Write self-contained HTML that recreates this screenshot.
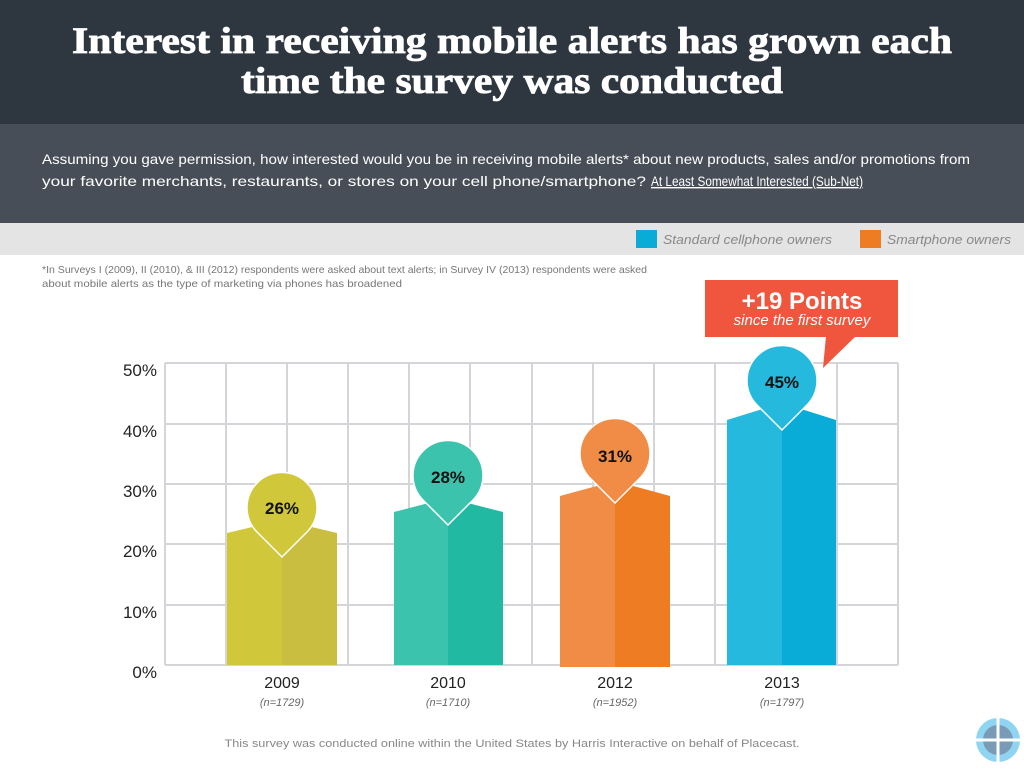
<!DOCTYPE html>
<html><head><meta charset="utf-8"><style>
html,body{margin:0;padding:0;background:#fff}
svg{display:block}
</style></head><body>
<svg width="1024" height="768" viewBox="0 0 1024 768" xmlns="http://www.w3.org/2000/svg" font-family="Liberation Sans, sans-serif">
<rect x="0" y="0" width="1024" height="124" fill="#2e3740"/>
<rect x="0" y="124" width="1024" height="99" fill="#474e57"/>
<rect x="0" y="223" width="1024" height="32" fill="#e4e4e4"/>
<text x="512" y="53" text-anchor="middle" font-family="Liberation Serif, serif" font-weight="bold" font-size="37" fill="#fff" stroke="#fff" stroke-width="0.8" textLength="880" lengthAdjust="spacingAndGlyphs">Interest in receiving mobile alerts has grown each</text>
<text x="512" y="93" text-anchor="middle" font-family="Liberation Serif, serif" font-weight="bold" font-size="37" fill="#fff" stroke="#fff" stroke-width="0.8" textLength="542" lengthAdjust="spacingAndGlyphs">time the survey was conducted</text>
<text x="42" y="164" font-size="14" fill="#fff" textLength="928" lengthAdjust="spacingAndGlyphs">Assuming you gave permission, how interested would you be in receiving mobile alerts* about new products, sales  and/or promotions from</text>
<text x="42" y="186" font-size="14" fill="#fff" textLength="604" lengthAdjust="spacingAndGlyphs">your favorite merchants, restaurants, or stores on your cell phone/smartphone?</text>
<text x="651" y="186" font-size="14" fill="#fff" text-decoration="underline" textLength="212" lengthAdjust="spacingAndGlyphs">At Least Somewhat Interested (Sub-Net)</text>
<rect x="636" y="230" width="21" height="18" fill="#08acd6"/>
<text x="663" y="244" font-size="13" font-style="italic" fill="#888" textLength="169" lengthAdjust="spacingAndGlyphs">Standard cellphone owners</text>
<rect x="860" y="230" width="21" height="18" fill="#ee7c23"/>
<text x="887" y="244" font-size="13" font-style="italic" fill="#888" textLength="124" lengthAdjust="spacingAndGlyphs">Smartphone owners</text>
<text x="42" y="273" font-size="10.5" fill="#777" textLength="605" lengthAdjust="spacingAndGlyphs">*In Surveys I (2009), II (2010), &amp;  III (2012) respondents were asked about text alerts; in Survey IV (2013) respondents were asked</text>
<text x="42" y="287" font-size="10.5" fill="#777" textLength="360" lengthAdjust="spacingAndGlyphs">about mobile alerts as the type of marketing via phones has broadened</text>
<g stroke="#d4d5d8" stroke-width="2" fill="none">
<line x1="165" y1="363" x2="898" y2="363"/><line x1="165" y1="424" x2="898" y2="424"/><line x1="165" y1="484" x2="898" y2="484"/><line x1="165" y1="544" x2="898" y2="544"/><line x1="165" y1="605" x2="898" y2="605"/><line x1="165" y1="665" x2="898" y2="665"/>
<line x1="165" y1="363" x2="165" y2="665"/><line x1="226" y1="363" x2="226" y2="665"/><line x1="287" y1="363" x2="287" y2="665"/><line x1="348" y1="363" x2="348" y2="665"/><line x1="409" y1="363" x2="409" y2="665"/><line x1="470" y1="363" x2="470" y2="665"/><line x1="532" y1="363" x2="532" y2="665"/><line x1="593" y1="363" x2="593" y2="665"/><line x1="654" y1="363" x2="654" y2="665"/><line x1="715" y1="363" x2="715" y2="665"/><line x1="776" y1="363" x2="776" y2="665"/><line x1="837" y1="363" x2="837" y2="665"/><line x1="898" y1="363" x2="898" y2="665"/>
</g>
<g font-size="17" fill="#222" text-anchor="end">
<text x="157" y="376">50%</text><text x="157" y="437">40%</text><text x="157" y="497">30%</text><text x="157" y="557">20%</text><text x="157" y="618">10%</text><text x="157" y="678">0%</text>
</g>
<polygon points="227,533 282,520 282,665 227,665" fill="#d0c73a"/>
<polygon points="282,520 337,533 337,665 282,665" fill="#c9be3f"/>
<path d="M282,557 L257,532 A35,35 0 1,1 307,532 Z" fill="#d0c73a" stroke="#fff" stroke-width="1.5"/>
<polygon points="394,512 448,498 448,665 394,665" fill="#3cc3ad"/>
<polygon points="448,498 503,512 503,665 448,665" fill="#22b9a3"/>
<path d="M448,525 L423,500 A35,35 0 1,1 473,500 Z" fill="#3cc3ad" stroke="#fff" stroke-width="1.5"/>
<polygon points="560,496 615,481 615,667 560,667" fill="#f08c45"/>
<polygon points="615,481 670,496 670,667 615,667" fill="#ee7c23"/>
<path d="M615,503 L590,478 A35,35 0 1,1 640,478 Z" fill="#f08c45" stroke="#fff" stroke-width="1.5"/>
<polygon points="727,420 782,403 782,665 727,665" fill="#25b9de"/>
<polygon points="782,403 836,420 836,665 782,665" fill="#08acd6"/>
<path d="M782,430 L757,405 A35,35 0 1,1 807,405 Z" fill="#25b9de" stroke="#fff" stroke-width="1.5"/>
<g font-size="17" font-weight="bold" fill="#111" text-anchor="middle">
<text x="282" y="514">26%</text><text x="448" y="483">28%</text><text x="615" y="462">31%</text><text x="782" y="388">45%</text>
</g>
<rect x="705" y="280" width="193" height="57" fill="#f0563d"/>
<polygon points="826,336 856,336 823,368" fill="#f0563d"/>
<text x="802" y="309" text-anchor="middle" font-size="24" font-weight="bold" fill="#fff">+19 Points</text>
<text x="802" y="325" text-anchor="middle" font-size="15" font-style="italic" fill="#fff">since the first survey</text>
<g text-anchor="middle">
<g font-size="16" fill="#222"><text x="282" y="688">2009</text><text x="448" y="688">2010</text><text x="615" y="688">2012</text><text x="782" y="688">2013</text></g>
<g font-size="11" font-style="italic" fill="#666"><text x="282" y="706">(n=1729)</text><text x="448" y="706">(n=1710)</text><text x="615" y="706">(n=1952)</text><text x="782" y="706">(n=1797)</text></g>
<text x="512" y="747" font-size="11" fill="#888" textLength="575" lengthAdjust="spacingAndGlyphs">This survey was conducted online within the United States by Harris Interactive on behalf of Placecast.</text>
</g>
<circle cx="998" cy="740" r="22" fill="#8fd4f0"/>
<circle cx="998" cy="740" r="15" fill="#7a9bb5"/>
<line x1="998" y1="718" x2="998" y2="762" stroke="#fff" stroke-width="3"/>
<line x1="976" y1="740" x2="1020" y2="740" stroke="#fff" stroke-width="3"/>
</svg>
</body></html>
